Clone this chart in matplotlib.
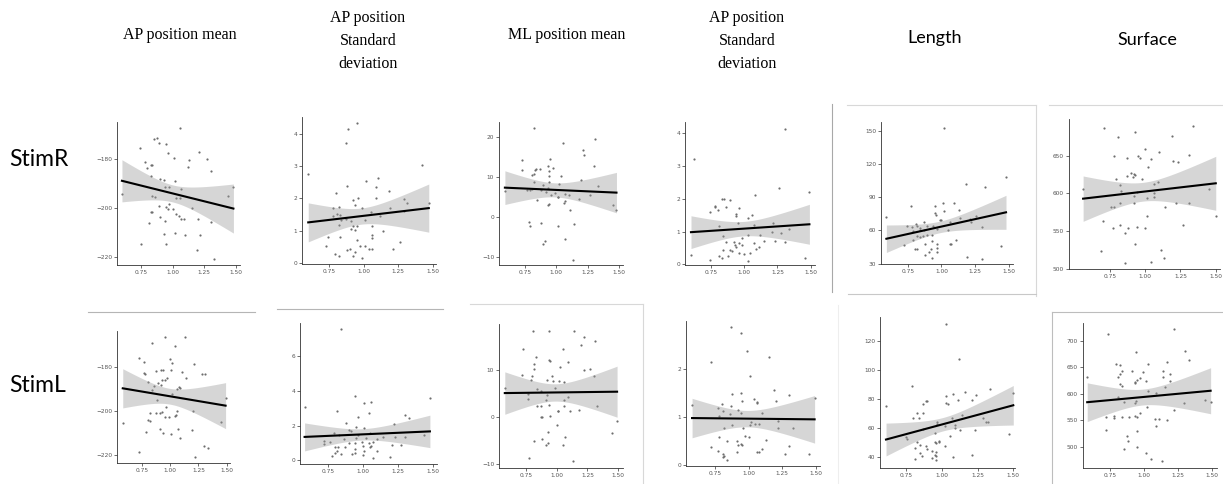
import numpy as np
import matplotlib
matplotlib.use("Agg")
import matplotlib.pyplot as plt
from matplotlib.lines import Line2D
from matplotlib.ticker import FormatStrFormatter

W, H = 1223, 484

col_titles = ["AP position mean", "AP position\nStandard\ndeviation", "ML position mean",
              "AP position\nStandard\ndeviation", "Length", "Surface"]
row_titles = ["StimR", "StimL"]
xticks = [0.75, 1.00, 1.25, 1.50]

# (x, y) points
stimr_ap_mean = [(1.06, -167.4), (0.85, -171.9), (0.88, -171.5), (0.89, -173.3), (0.95, -174.0),
                 (0.74, -175.3), (0.96, -177.3), (1.21, -177.0), (1.01, -179.7), (1.27, -180.0),
                 (1.13, -180.4), (0.78, -181.2), (0.83, -182.3), (0.84, -182.6), (0.80, -183.8),
                 (1.12, -183.4), (1.30, -184.7), (0.83, -186.8), (0.90, -188.2), (0.93, -188.6),
                 (1.02, -189.0), (0.94, -191.4), (0.97, -191.6), (1.07, -192.1), (1.48, -191.6),
                 (0.60, -194.4), (0.84, -195.2), (0.86, -195.5), (1.03, -195.8), (1.06, -195.9),
                 (1.44, -195.2), (0.97, -198.2), (0.89, -199.3), (0.95, -199.6), (0.96, -200.3),
                 (1.00, -200.3), (1.15, -200.0), (0.83, -201.6), (0.84, -201.6), (1.03, -202.3),
                 (1.05, -203.2), (1.07, -204.4), (1.09, -204.4), (0.90, -203.7), (0.94, -205.3),
                 (0.81, -206.0), (1.20, -204.4), (1.30, -205.6), (0.93, -210.5), (1.02, -210.3),
                 (1.10, -211.0), (1.22, -211.2), (0.75, -214.7), (0.95, -214.9), (1.19, -217.4),
                 (1.33, -221.1)]
stimr_ap_sd = [(0.60, 2.74), (0.89, 4.15), (0.95, 4.31), (0.87, 3.71), (0.88, 2.37), (1.02, 2.55),
               (1.10, 2.64), (1.09, 2.34), (1.18, 2.23), (0.80, 2.16), (0.96, 2.01), (0.92, 1.96),
               (1.09, 2.01), (0.94, 1.81), (1.29, 1.98), (1.31, 1.86), (0.78, 1.70), (0.82, 1.73),
               (0.99, 1.70), (1.05, 1.57), (1.19, 1.70), (0.81, 1.53), (0.83, 1.50), (0.78, 1.45),
               (1.12, 1.45), (0.84, 1.33), (0.87, 1.37), (0.91, 1.32), (1.01, 1.35), (1.29, 1.60),
               (0.82, 1.19), (0.92, 1.14), (0.95, 1.14), (1.06, 1.16), (0.91, 1.06), (0.94, 1.02),
               (1.14, 0.99), (0.74, 0.81), (0.83, 0.81), (1.06, 0.86), (1.06, 0.79), (0.95, 0.73),
               (0.73, 0.55), (0.97, 0.55), (1.01, 0.55), (0.90, 0.43), (1.06, 0.43), (1.04, 0.45),
               (1.21, 0.43), (1.26, 0.66), (0.94, 0.35), (0.79, 0.30), (0.82, 0.24), (0.88, 0.40),
               (0.92, 0.22), (0.99, 0.15), (1.42, 3.03), (1.47, 1.86)]
stimr_ml_mean = [(0.82, 22.3), (1.05, 18.7), (1.31, 19.5), (1.21, 16.8), (1.22, 15.7), (0.73, 14.3),
                 (0.95, 14.7), (0.97, 12.2), (0.73, 11.7), (0.93, 12.9), (0.87, 12.0), (0.83, 11.9),
                 (0.84, 12.0), (0.82, 10.9), (0.81, 10.6), (0.94, 11.6), (0.94, 10.3), (1.04, 10.3),
                 (1.30, 12.9), (1.20, 9.4), (0.82, 8.8), (0.94, 8.7), (1.02, 8.4), (1.33, 7.7),
                 (0.89, 8.0), (0.93, 7.3), (0.77, 6.7), (0.79, 6.7), (0.81, 7.0), (0.88, 6.7),
                 (0.92, 6.3), (0.99, 5.9), (0.96, 5.5), (1.07, 5.7), (1.10, 5.6), (1.01, 4.9),
                 (1.01, 5.1), (1.27, 5.6), (1.18, 4.6), (0.85, 4.2), (1.06, 3.6), (1.07, 3.9),
                 (0.93, 3.1), (0.94, 3.2), (1.45, 3.1), (1.48, 1.7), (1.11, 1.8), (0.78, -1.3),
                 (0.79, -2.4), (0.88, -1.5), (1.01, -2.4), (1.14, -1.9), (1.07, -5.5), (0.91, -6.1),
                 (0.89, -6.7), (1.13, -10.8), (0.59, 6.5)]
stimr_ap_sd2 = [(1.31, 4.13), (0.62, 3.21), (1.49, 2.20), (1.26, 2.34), (1.08, 2.11), (0.83, 2.00),
                (0.85, 2.00), (0.89, 1.97), (0.78, 1.79), (0.78, 1.74), (0.80, 1.66), (0.96, 1.71),
                (0.74, 1.60), (0.86, 1.74), (0.94, 1.54), (0.94, 1.48), (1.06, 1.49), (1.03, 1.41),
                (0.95, 1.25), (0.81, 1.17), (1.07, 1.20), (1.22, 1.27), (1.21, 0.99), (1.34, 1.07),
                (1.28, 0.97), (1.12, 0.90), (1.03, 0.88), (0.84, 0.87), (0.98, 0.79), (0.92, 0.69),
                (1.15, 0.71), (1.23, 0.72), (1.07, 0.66), (1.31, 0.69), (0.96, 0.64), (0.98, 0.59),
                (0.93, 0.59), (0.94, 0.54), (0.86, 0.68), (1.11, 0.52), (1.09, 0.46), (0.89, 0.44),
                (0.91, 0.42), (0.84, 0.44), (0.96, 0.34), (1.00, 0.32), (1.04, 0.36), (0.81, 0.26),
                (0.88, 0.25), (0.83, 0.18), (0.74, 0.13), (1.03, 0.11), (0.60, 0.29), (1.46, 0.20)]
stimr_length = [(1.02, 152.4), (1.48, 107.9), (1.32, 98.9), (1.18, 102.2), (0.77, 81.7), (1.09, 84.7),
                (1.01, 84.7), (0.95, 82.3), (1.13, 78.1), (1.02, 77.2), (0.95, 75.7), (0.96, 74.2),
                (0.59, 71.8), (1.26, 72.7), (1.14, 71.2), (1.21, 70.3), (0.99, 69.7), (1.00, 69.7),
                (1.06, 67.6), (1.22, 67.3), (0.87, 67.3), (0.81, 65.8), (0.74, 63.7), (0.78, 62.8),
                (0.82, 64.3), (0.84, 62.5), (0.89, 63.7), (0.94, 63.7), (1.30, 63.1), (0.97, 61.3),
                (0.84, 60.7), (0.87, 60.1), (1.05, 60.1), (0.79, 59.2), (0.89, 56.2), (0.93, 55.6),
                (0.82, 54.7), (0.84, 54.1), (0.86, 54.7), (0.72, 47.1), (0.79, 51.7), (0.93, 50.2),
                (0.88, 47.7), (0.97, 48.0), (1.06, 48.0), (1.07, 48.0), (1.11, 51.7), (0.80, 43.5),
                (0.82, 43.2), (0.92, 43.2), (0.97, 44.1), (0.97, 40.8), (0.91, 40.2), (0.88, 38.1),
                (0.93, 35.4), (1.19, 36.0), (1.44, 45.6), (1.30, 34.2)]
stimr_surface = [(0.71, 686.5), (0.93, 681.2), (1.34, 690.1), (0.81, 674.5), (1.19, 676.3), (1.10, 655.5),
                 (1.00, 658.6), (1.31, 651.0), (0.78, 649.7), (0.95, 650.1), (0.96, 647.5), (0.87, 647.5),
                 (1.04, 645.3), (1.20, 643.5), (1.23, 642.1), (1.02, 635.5), (0.90, 627.5), (0.92, 625.7),
                 (0.93, 624.0), (0.87, 623.1), (0.91, 622.2), (0.98, 618.6), (0.79, 618.6), (1.09, 615.5),
                 (0.82, 610.6), (1.06, 612.0), (0.83, 603.1), (1.45, 605.8), (0.56, 605.3), (0.92, 596.5),
                 (0.94, 601.8), (1.06, 600.0), (1.06, 595.6), (1.01, 593.3), (1.22, 586.7), (0.82, 587.6),
                 (0.92, 587.6), (0.76, 582.3), (0.78, 582.3), (1.14, 582.3), (1.31, 586.7), (1.50, 569.8),
                 (1.01, 569.8), (0.70, 563.2), (0.82, 557.9), (0.77, 553.4), (0.88, 553.4), (0.94, 555.6),
                 (1.00, 554.3), (1.27, 557.9), (0.86, 546.8), (0.93, 532.6), (0.69, 523.2), (1.11, 524.6),
                 (1.13, 514.8), (0.86, 508.2), (1.04, 509.1)]
stiml_ap_mean = [(0.95, -166.5), (1.13, -166.5), (0.84, -169.1), (1.04, -170.6), (1.00, -176.6),
                 (0.72, -176.0), (0.77, -177.8), (1.02, -178.2), (1.01, -181.2), (1.21, -178.9),
                 (0.94, -181.2), (0.92, -181.5), (0.87, -181.9), (1.10, -182.2), (0.77, -182.7),
                 (0.78, -183.4), (1.28, -183.3), (1.31, -183.0), (0.97, -184.9), (0.93, -185.7),
                 (0.95, -186.0), (1.14, -185.2), (0.89, -187.5), (0.92, -188.2), (0.80, -187.0),
                 (0.86, -188.5), (1.08, -189.0), (1.09, -189.7), (0.84, -190.5), (1.06, -190.0),
                 (1.02, -192.4), (0.88, -195.0), (1.49, -193.9), (0.96, -198.3), (1.20, -199.8),
                 (0.82, -200.7), (0.87, -201.0), (0.91, -201.0), (0.93, -200.5), (1.04, -202.2),
                 (0.95, -202.5), (0.99, -202.5), (1.05, -201.7), (0.80, -204.0), (0.82, -204.4),
                 (1.06, -199.8), (0.58, -205.5), (1.45, -204.7), (0.79, -209.2), (0.91, -208.2),
                 (0.94, -210.0), (1.01, -210.3), (1.07, -208.2), (1.09, -211.9), (1.19, -208.5),
                 (1.30, -215.7), (1.33, -216.7), (0.72, -218.5), (1.22, -220.7)]
stiml_ap_sd = [(0.84, 7.58), (0.58, 3.06), (0.94, 3.71), (1.01, 3.29), (1.06, 3.35), (0.81, 2.86),
               (0.96, 2.51), (1.04, 2.75), (1.30, 2.61), (1.33, 2.42), (0.88, 2.17), (1.01, 1.84),
               (1.22, 2.09), (0.90, 1.74), (0.91, 1.70), (0.95, 1.90), (1.05, 1.59), (0.79, 1.59),
               (0.83, 1.45), (0.96, 1.45), (1.14, 1.35), (1.23, 1.35), (1.30, 1.35), (0.86, 1.20),
               (0.95, 1.26), (1.02, 1.26), (1.10, 1.22), (0.72, 1.12), (0.76, 1.03), (0.72, 0.93),
               (0.90, 0.97), (0.94, 0.97), (0.99, 1.06), (1.04, 0.97), (1.07, 1.06), (0.80, 0.73),
               (0.82, 0.77), (0.87, 0.73), (1.00, 0.83), (1.06, 0.81), (1.21, 0.87), (1.27, 0.87),
               (0.81, 0.54), (0.94, 0.62), (1.01, 0.52), (1.10, 0.54), (1.05, 0.73), (0.80, 0.43),
               (0.84, 0.33), (0.78, 0.25), (0.92, 0.35), (0.94, 0.39), (1.00, 0.29), (1.07, 0.10),
               (1.19, 0.19), (1.44, 1.45), (1.48, 3.58)]
stiml_ml_mean = [(0.81, 18.2), (0.94, 18.2), (1.14, 18.3), (1.22, 16.9), (1.31, 16.0), (1.20, 15.3),
                 (0.73, 14.3), (1.05, 14.3), (0.83, 12.6), (0.94, 12.1), (0.95, 11.8), (1.09, 11.6),
                 (0.82, 11.1), (0.82, 10.2), (1.03, 10.5), (1.22, 10.0), (1.27, 10.1), (0.72, 8.8),
                 (0.80, 8.7), (0.96, 8.7), (1.30, 8.6), (0.79, 7.9), (0.92, 7.7), (0.97, 7.5),
                 (1.02, 7.5), (1.06, 7.3), (0.58, 6.2), (0.99, 6.1), (0.84, 5.9), (0.87, 5.4),
                 (0.77, 4.8), (0.92, 4.7), (1.09, 4.2), (0.77, 3.8), (0.91, 3.5), (1.06, 3.6),
                 (0.84, 2.3), (0.87, 2.2), (0.94, 2.4), (1.06, 2.3), (1.33, 2.2), (1.01, 1.3),
                 (1.01, 1.2), (1.11, 1.2), (1.18, 1.5), (0.88, -0.1), (0.87, -0.1), (0.95, 0.1),
                 (1.49, -1.0), (1.00, -1.7), (0.82, -5.2), (0.88, -4.8), (0.93, -3.3), (1.07, -4.4),
                 (0.93, -5.5), (0.91, -6.0), (1.05, -6.1), (1.45, -3.5), (0.78, -8.7), (1.13, -9.5)]
stiml_ap_sd2 = [(0.87, 2.87), (0.94, 2.74), (0.99, 2.38), (0.72, 2.14), (1.15, 2.25), (1.01, 1.85),
                (1.19, 1.57), (1.30, 1.45), (0.88, 1.48), (0.94, 1.50), (1.49, 1.40), (1.04, 1.37),
                (1.06, 1.32), (1.06, 1.30), (0.95, 1.33), (1.20, 1.34), (0.58, 1.26), (0.80, 1.28),
                (0.87, 1.23), (0.77, 1.19), (0.81, 1.12), (0.92, 1.14), (0.94, 1.09), (0.86, 1.06),
                (1.10, 1.08), (0.78, 1.03), (1.02, 0.90), (1.22, 0.92), (1.05, 0.86), (1.08, 0.86),
                (1.01, 0.83), (0.88, 0.83), (0.82, 0.78), (0.96, 0.78), (1.22, 0.78), (1.33, 0.78),
                (0.97, 0.61), (1.00, 0.59), (0.78, 0.59), (1.13, 0.52), (0.84, 0.50), (0.91, 0.50),
                (0.92, 0.41), (0.95, 0.41), (0.94, 0.43), (1.30, 0.40), (0.72, 0.37), (1.10, 0.34),
                (0.77, 0.30), (0.91, 0.28), (1.06, 0.28), (1.08, 0.28), (1.27, 0.23), (1.45, 0.24),
                (0.81, 0.24), (0.82, 0.19), (0.81, 0.16), (0.84, 0.10)]
stiml_length = [(1.03, 132.2), (1.12, 107.4), (0.79, 89.3), (1.34, 87.0), (1.16, 84.7), (1.03, 82.2),
                (1.08, 83.6), (1.24, 82.9), (1.04, 76.5), (1.03, 77.6), (1.11, 79.4), (1.21, 79.4),
                (0.89, 78.8), (0.90, 78.8), (1.50, 84.0), (0.87, 76.7), (0.61, 75.3), (0.83, 70.3),
                (0.87, 70.3), (0.80, 66.8), (0.84, 66.8), (1.14, 69.1), (1.07, 66.8), (1.29, 66.8),
                (1.31, 64.5), (1.32, 63.9), (0.97, 63.9), (0.97, 62.7), (0.87, 59.3), (1.02, 61.6),
                (1.09, 62.2), (1.09, 59.9), (1.13, 58.8), (1.23, 58.8), (0.95, 56.5), (0.75, 53.5),
                (0.76, 52.4), (1.06, 54.2), (1.47, 55.8), (0.95, 50.1), (0.96, 49.6), (0.98, 50.3),
                (0.83, 50.3), (0.89, 47.8), (0.81, 46.2), (0.85, 48.5), (0.98, 50.8), (1.02, 47.8),
                (0.90, 45.5), (0.93, 44.4), (0.96, 43.4), (0.95, 41.6), (0.96, 40.5), (0.86, 40.5),
                (0.81, 38.6), (0.93, 39.3), (0.96, 37.7), (1.21, 41.6), (1.08, 40.0), (0.85, 42.8)]
stiml_surface = [(0.73, 711.6), (1.22, 721.0), (0.58, 632.0), (0.94, 679.0), (1.30, 680.3), (1.33, 663.3),
                 (1.03, 656.4), (1.17, 659.6), (0.79, 655.2), (0.82, 653.9), (0.82, 636.4), (0.84, 642.6),
                 (0.81, 632.0), (0.91, 642.6), (0.99, 640.8), (1.14, 642.6), (1.19, 636.4), (1.14, 631.3),
                 (0.97, 630.1), (0.95, 625.7), (0.93, 621.9), (1.01, 623.8), (0.82, 617.6), (0.84, 614.4),
                 (0.93, 619.4), (1.19, 623.8), (1.15, 612.5), (1.03, 605.0), (1.09, 600.6), (1.29, 583.1),
                 (1.45, 587.5), (1.49, 584.3), (0.85, 584.3), (0.93, 583.1), (0.94, 586.2), (0.81, 594.4),
                 (1.02, 575.5), (1.22, 569.3), (1.17, 550.5), (1.08, 551.7), (1.11, 551.7), (0.72, 556.7),
                 (0.78, 558.0), (0.78, 553.6), (0.84, 556.1), (0.89, 556.7), (0.93, 558.0), (0.95, 556.7),
                 (0.97, 563.0), (1.09, 538.6), (0.72, 531.0), (0.95, 529.8), (0.87, 520.4), (0.88, 511.0),
                 (0.85, 495.3), (0.95, 499.7), (1.01, 489.0), (1.05, 476.5), (1.13, 473.4)]

data = [[stimr_ap_mean, stimr_ap_sd, stimr_ml_mean, stimr_ap_sd2, stimr_length, stimr_surface],
        [stiml_ap_mean, stiml_ap_sd, stiml_ml_mean, stiml_ap_sd2, stiml_length, stiml_surface]]

yticks = [[[-220, -200, -180], [0, 1, 2, 3, 4], [-10, 0, 10, 20], [0, 1, 2, 3, 4],
           [30, 60, 90, 120, 150], [500, 550, 600, 650]],
          [[-220, -200, -180], [0, 2, 4, 6], [-10, 0, 10], [0, 1, 2],
           [40, 60, 80, 100, 120], [500, 550, 600, 650, 700]]]

# layout of the pasted panels, in pixels: left, top, right, bottom
boxes = [[(117, 122, 240, 265), (302, 117, 436, 264), (499, 122, 623, 265),
          (685, 122, 815, 265), (881, 122, 1013, 264), (1069, 119, 1220, 269)],
         [(117, 331, 230, 463), (300, 323, 437, 464), (499, 324, 623, 468),
          (686, 321, 820, 466), (880, 317, 1015, 468), (1083, 323, 1217, 468)]]
xlims = [[(0.561, 1.532), (0.555, 1.522), (0.543, 1.532), (0.555, 1.532), (0.55, 1.532), (0.46, 1.53)],
         [(0.529, 1.529), (0.547, 1.531), (0.533, 1.538), (0.535, 1.53), (0.568, 1.512), (0.549, 1.537)]]
ylims = [[(-223.4, -164.8), (-0.02, 4.51), (-12.1, 23.9), (-0.02, 4.34), (29.7, 157.8), (499.6, 698.8)],
         [(-223.4, -163.8), (-0.23, 7.94), (-10.9, 19.7), (-0.02, 3.0), (32.4, 136.7), (460.5, 733)]]

fig = plt.figure(figsize=(W / 100, H / 100), dpi=100)
fig.patch.set_facecolor("white")


def draw_panel(box, pts, xlim, ylim, yt):
    l, t, r, b = box
    ax = fig.add_axes([l / W, 1 - b / H, (r - l) / W, (b - t) / H])
    x, y = np.array(pts).T
    ax.scatter(x, y, s=2.5, color="#6e6e6e", linewidths=0, zorder=2)
    # linear fit with 95% band, like geom_smooth(method = "lm")
    k, c = np.polyfit(x, y, 1)
    xs = np.linspace(x.min(), x.max(), 100)
    fit = k * xs + c
    n = len(x)
    s = np.sqrt(np.sum((y - (k * x + c)) ** 2) / (n - 2))
    se = s * np.sqrt(1 / n + (xs - x.mean()) ** 2 / np.sum((x - x.mean()) ** 2))
    ax.fill_between(xs, fit - 2.0 * se, fit + 2.0 * se, color="#9a9a9a", alpha=0.4, lw=0, zorder=3)
    ax.plot(xs, fit, color="black", lw=1.5, zorder=4)
    ax.set_xlim(xlim)
    ax.set_ylim(ylim)
    ax.set_xticks(xticks)
    ax.xaxis.set_major_formatter(FormatStrFormatter("%.2f"))
    ax.set_yticks(yt)
    for side in ["top", "right"]:
        ax.spines[side].set_visible(False)
    for side in ["left", "bottom"]:
        ax.spines[side].set_color("#333333")
        ax.spines[side].set_linewidth(0.6)
    ax.tick_params(length=2, width=0.5, color="#333333", labelsize=4.2,
                   labelcolor="#555555", pad=1.5)
    ax.patch.set_alpha(0)


for i in range(2):
    for j in range(6):
        draw_panel(boxes[i][j], data[i][j], xlims[i][j], ylims[i][j], yticks[i][j])

# column headers
head_x = [180, 368, 567, 747, 935, 1147]
for j, title in enumerate(col_titles):
    if j < 4:
        yc = 41 if "\n" in title else 35
        fig.text(head_x[j] / W, 1 - yc / H, title, ha="center", va="center",
                 family="Liberation Serif", fontsize=11.5, linespacing=1.55)
    else:
        yc = 38 if title == "Length" else 40
        fig.text(head_x[j] / W, 1 - yc / H, title, ha="center", va="center",
                 family="Lato", fontsize=13)

# row labels
for i, lab in enumerate(row_titles):
    yc = [160, 385][i]
    fig.text(9 / W, 1 - yc / H, lab, ha="left", va="center", family="Lato", fontsize=16.5)

# faint frame lines left over from the pasted screenshots
frames = [((832, 104), (832, 292), "#a8a8a8"),
          ((847, 105), (1036, 105), "#d8d8d8"),
          ((1036, 105), (1036, 296), "#d8d8d8"),
          ((848, 294), (1036, 294), "#c8c8c8"),
          ((1049, 105), (1223, 105), "#d8d8d8"),
          ((88, 312), (255, 312), "#b5b5b5"),
          ((277, 309), (443, 309), "#b5b5b5"),
          ((470, 304), (643, 304), "#d8d8d8"),
          ((643, 304), (643, 484), "#d8d8d8"),
          ((838, 305), (838, 484), "#eeeeee"),
          ((1052, 312), (1052, 484), "#bdbdbd"),
          ((1052, 312), (1223, 312), "#bdbdbd")]
for (x0, y0), (x1, y1), col in frames:
    fig.add_artist(Line2D([x0 / W, x1 / W], [1 - y0 / H, 1 - y1 / H],
                          transform=fig.transFigure, color=col, lw=0.8))

fig.savefig("out.png", dpi=100, facecolor="white")
